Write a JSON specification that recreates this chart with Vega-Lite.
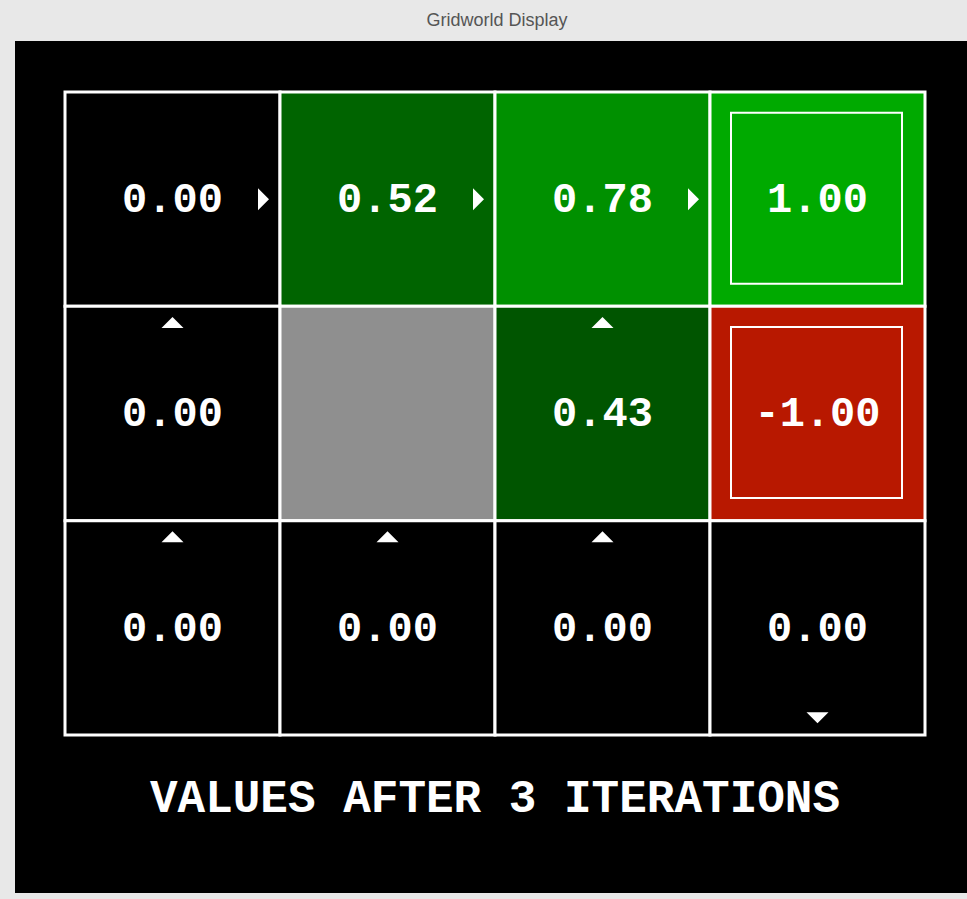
{
  "$schema": "https://vega.github.io/schema/vega-lite/v6.json",
  "width": 952,
  "height": 852,
  "autosize": {"type": "none"},
  "padding": {"left": 15, "top": 41, "right": 0, "bottom": 6},
  "background": "#e8e8e8",
  "title": {"text": "Gridworld Display", "color": "#555555", "fontSize": 18, "font": "Liberation Sans", "fontWeight": "normal", "anchor": "middle", "offset": 11, "dx": 6},
  "config": {"view": {"fill": "#000000", "stroke": null}},
  "datasets": {
    "cells": [
      {"row": 0, "col": 0, "value": 0.00, "label": "0.00", "kind": "state", "arrow": "right"},
      {"row": 0, "col": 1, "value": 0.52, "label": "0.52", "kind": "state", "arrow": "right"},
      {"row": 0, "col": 2, "value": 0.78, "label": "0.78", "kind": "state", "arrow": "right"},
      {"row": 0, "col": 3, "value": 1.00, "label": "1.00", "kind": "terminal", "arrow": "none"},
      {"row": 1, "col": 0, "value": 0.00, "label": "0.00", "kind": "state", "arrow": "up"},
      {"row": 1, "col": 1, "value": null, "label": "", "kind": "wall", "arrow": "none"},
      {"row": 1, "col": 2, "value": 0.43, "label": "0.43", "kind": "state", "arrow": "up"},
      {"row": 1, "col": 3, "value": -1.00, "label": "-1.00", "kind": "terminal", "arrow": "none"},
      {"row": 2, "col": 0, "value": 0.00, "label": "0.00", "kind": "state", "arrow": "up"},
      {"row": 2, "col": 1, "value": 0.00, "label": "0.00", "kind": "state", "arrow": "up"},
      {"row": 2, "col": 2, "value": 0.00, "label": "0.00", "kind": "state", "arrow": "up"},
      {"row": 2, "col": 3, "value": 0.00, "label": "0.00", "kind": "state", "arrow": "down"}
    ],
    "caption": [{"text": "VALUES AFTER 3 ITERATIONS"}]
  },
  "layer": [
    {
      "data": {"name": "cells"},
      "mark": {"type": "rect", "stroke": "#ffffff", "strokeWidth": 3},
      "encoding": {
        "x": {"field": "col", "type": "ordinal", "axis": null, "scale": {"type": "band", "domain": [0, 1, 2, 3], "paddingInner": 0, "paddingOuter": 0.21395, "align": 0.5435}},
        "y": {"field": "row", "type": "ordinal", "axis": null, "scale": {"type": "band", "domain": [0, 1, 2], "paddingInner": 0, "paddingOuter": 0.48756, "align": 0.244}},
        "fill": {
          "condition": {"test": "datum.kind === 'wall'", "value": "#8f8f8f"},
          "field": "value", "type": "ordinal", "legend": null,
          "scale": {"domain": [-1, 0, 0.43, 0.52, 0.78, 1], "range": ["#b81800", "#000000", "#005500", "#006400", "#009000", "#00aa00"]}
        }
      }
    },
    {
      "data": {"name": "cells"},
      "transform": [{"filter": "datum.kind === 'terminal'"}],
      "mark": {"type": "point", "shape": "square", "size": 29241, "filled": false, "stroke": "#ffffff", "strokeWidth": 2, "opacity": 1, "xOffset": -1, "yOffset": -1},
      "encoding": {
        "x": {"field": "col", "type": "ordinal"},
        "y": {"field": "row", "type": "ordinal"}
      }
    },
    {
      "data": {"name": "cells"},
      "transform": [{"filter": "datum.arrow === 'right'"}],
      "mark": {"type": "point", "shape": "M -0.5 -1 L 0.5 0 L -0.5 1 Z", "size": 484, "filled": true, "fill": "#ffffff", "strokeWidth": 0, "opacity": 1, "xOffset": 91},
      "encoding": {
        "x": {"field": "col", "type": "ordinal"},
        "y": {"field": "row", "type": "ordinal"}
      }
    },
    {
      "data": {"name": "cells"},
      "transform": [{"filter": "datum.arrow === 'up'"}],
      "mark": {"type": "point", "shape": "M -1 0.5 L 1 0.5 L 0 -0.5 Z", "size": 484, "filled": true, "fill": "#ffffff", "strokeWidth": 0, "opacity": 1, "yOffset": -91},
      "encoding": {
        "x": {"field": "col", "type": "ordinal"},
        "y": {"field": "row", "type": "ordinal"}
      }
    },
    {
      "data": {"name": "cells"},
      "transform": [{"filter": "datum.arrow === 'down'"}],
      "mark": {"type": "point", "shape": "M -1 -0.5 L 1 -0.5 L 0 0.5 Z", "size": 484, "filled": true, "fill": "#ffffff", "strokeWidth": 0, "opacity": 1, "yOffset": 90},
      "encoding": {
        "x": {"field": "col", "type": "ordinal"},
        "y": {"field": "row", "type": "ordinal"}
      }
    },
    {
      "data": {"name": "cells"},
      "transform": [{"filter": "datum.label !== ''"}],
      "mark": {"type": "text", "font": "Liberation Mono", "fontWeight": "bold", "fontSize": 42, "fill": "#ffffff", "align": "center", "baseline": "middle", "dy": 0},
      "encoding": {
        "x": {"field": "col", "type": "ordinal"},
        "y": {"field": "row", "type": "ordinal"},
        "text": {"field": "label"}
      }
    },
    {
      "data": {"name": "caption"},
      "mark": {"type": "text", "font": "Liberation Mono", "fontWeight": "bold", "fontSize": 46, "fill": "#ffffff", "align": "center", "baseline": "middle", "yOffset": 63},
      "encoding": {
        "x": {"datum": 1, "type": "ordinal", "bandPosition": 1},
        "y": {"datum": 2, "type": "ordinal", "bandPosition": 1},
        "text": {"field": "text"}
      }
    }
  ]
}
